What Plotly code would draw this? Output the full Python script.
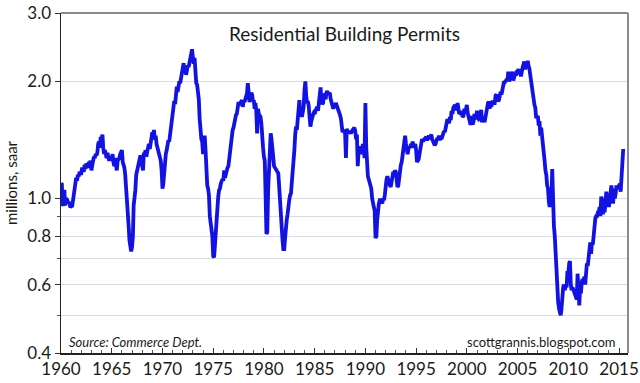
import pandas as pd
import plotly.graph_objects as go

# Monthly residential building permits, thousands (SAAR)
permits_1960s = [
    1092, 1088, 955, 1016, 1052, 958, 999, 994, 984, 972, 979, 947,
    955, 950, 980, 1030, 1060, 1100, 1130, 1110, 1150, 1140, 1170, 1160,
    1160, 1200, 1190, 1170, 1220, 1190, 1230, 1210, 1200, 1240, 1230, 1250,
    1180, 1220, 1250, 1280, 1270, 1300, 1290, 1310, 1380, 1400, 1350, 1440,
    1420, 1460, 1350, 1300, 1330, 1280, 1270, 1310, 1260, 1250, 1270, 1280,
    1250, 1300, 1240, 1210, 1270, 1200, 1180, 1250, 1260, 1270, 1300, 1320,
    1330, 1240, 1220, 1200, 1150, 1080, 1000, 920, 850, 780, 740, 730,
    750, 800, 960, 990, 1050, 1150, 1180, 1200, 1230, 1260, 1290, 1250,
    1210, 1180, 1310, 1300, 1330, 1280, 1320, 1350, 1380, 1340, 1410, 1400,
    1480, 1460, 1500, 1420, 1450, 1380, 1350, 1340, 1300, 1270, 1250, 1180,
]
permits_1970s = [
    1060, 1090, 1180, 1230, 1300, 1330, 1370, 1410, 1400, 1450, 1520, 1560,
    1620, 1720, 1780, 1750, 1850, 1940, 1880, 1920, 2000, 1980, 2050, 2060,
    2200, 2230, 2100, 2170, 2080, 2150, 2200, 2180, 2250, 2300, 2400, 2420,
    2300, 2220, 2300, 2100, 1980, 1960, 1900, 1800, 1600, 1450, 1420, 1400,
    1300, 1420, 1450, 1330, 1150, 1080, 1060, 1020, 900, 860, 830, 800,
    710, 705, 750, 820, 890, 960, 1010, 1050, 1060, 1090, 1100, 1120,
    1110, 1180, 1130, 1160, 1180, 1200, 1210, 1270, 1350, 1380, 1470, 1500,
    1520, 1580, 1620, 1640, 1650, 1710, 1770, 1740, 1760, 1780, 1790, 1720,
    1780, 1770, 1800, 1820, 1860, 1980, 1850, 1770, 1800, 1870, 1850, 1780,
    1790, 1700, 1760, 1680, 1470, 1700, 1650, 1640, 1620, 1560, 1400, 1350,
]
permits_1980s = [
    1280, 1250, 1020, 810, 820, 1050, 1200, 1320, 1470, 1420, 1310, 1280,
    1210, 1200, 1190, 1170, 1160, 1160, 1080, 970, 890, 820, 780, 740,
    740, 790, 860, 880, 910, 980, 990, 1020, 1030, 1100, 1160, 1260,
    1330, 1460, 1530, 1500, 1620, 1700, 1790, 1650, 1660, 1620, 1690, 1720,
    1900, 2000, 1840, 1760, 1780, 1730, 1620, 1530, 1580, 1640, 1640, 1660,
    1650, 1680, 1700, 1720, 1680, 1740, 1840, 1930, 1780, 1750, 1760, 1860,
    1840, 1800, 1870, 1890, 1850, 1860, 1870, 1800, 1760, 1730, 1700, 1730,
    1720, 1760, 1740, 1720, 1690, 1670, 1640, 1610, 1540, 1480, 1500, 1480,
    1470, 1270, 1510, 1480, 1470, 1490, 1480, 1470, 1490, 1500, 1510, 1520,
    1490, 1420, 1460, 1210, 1320, 1360, 1360, 1340, 1300, 1380, 1360, 1270,
]
permits_1990s = [
    1760, 1350, 1210, 1140, 1120, 1090, 1080, 1060, 1000, 960, 950, 930,
    790, 800, 880, 950, 970, 990, 990, 980, 970, 1000, 990, 1020,
    1090, 1120, 1140, 1120, 1080, 1080, 1070, 1100, 1130, 1170, 1160, 1180,
    1170, 1090, 1070, 1080, 1140, 1190, 1220, 1240, 1290, 1330, 1400, 1450,
    1380, 1320, 1300, 1340, 1360, 1350, 1380, 1370, 1400, 1350, 1360, 1380,
    1330, 1240, 1250, 1260, 1310, 1350, 1390, 1420, 1410, 1410, 1420, 1440,
    1440, 1410, 1440, 1450, 1420, 1440, 1460, 1420, 1400, 1400, 1370, 1380,
    1400, 1430, 1420, 1450, 1410, 1440, 1420, 1450, 1470, 1490, 1480, 1520,
    1540, 1600, 1580, 1560, 1620, 1590, 1680, 1650, 1710, 1720, 1740, 1700,
    1700, 1760, 1700, 1650, 1680, 1640, 1660, 1620, 1630, 1700, 1650, 1690,
]
permits_2000s = [
    1740, 1660, 1620, 1570, 1560, 1560, 1630, 1550, 1580, 1650, 1600, 1620,
    1680, 1610, 1600, 1610, 1620, 1690, 1570, 1620, 1610, 1570, 1620, 1680,
    1710, 1760, 1770, 1700, 1780, 1720, 1770, 1770, 1760, 1760, 1840, 1850,
    1810, 1780, 1790, 1840, 1880, 1850, 1900, 1950, 2000, 1990, 2010, 2020,
    2000, 2120, 2000, 2050, 2080, 2070, 2120, 2010, 2080, 2090, 2070, 2130,
    2120, 2150, 2100, 2130, 2060, 2150, 2170, 2210, 2250, 2150, 2200, 2180,
    2260, 2190, 2160, 2080, 2000, 1950, 1840, 1790, 1740, 1710, 1610, 1620,
    1630, 1540, 1580, 1450, 1520, 1420, 1390, 1330, 1250, 1180, 1150, 1080,
    1060, 980, 950, 980, 970, 1190, 910, 850, 800, 730, 640, 560,
    540, 520, 510, 500, 520, 570, 590, 600, 580, 600, 590, 650,
]
permits_2010s = [
    640, 680, 690, 600, 580, 590, 580, 570, 570, 550, 550, 640,
    570, 530, 590, 570, 610, 620, 600, 630, 600, 650, 680, 670,
    710, 720, 770, 720, 770, 760, 810, 810, 890, 900, 900, 920,
    920, 950, 900, 1010, 990, 910, 950, 920, 1000, 1040, 1000, 990,
    950, 1010, 1000, 1080, 1020, 970, 1060, 1000, 1030, 1080, 1060, 1070,
    1080, 1090, 1040, 1140, 1250, 1340,
]
start_month = "1960-01-01"

y_tick_vals = [0.4, 0.6, 0.8, 1.0, 2.0, 3.0]
y_tick_text = ["0.4", "0.6", "0.8", "1.0", "2.0", "3.0"]
y_minor_vals = [0.5, 0.7, 0.9]
x_tick_years = list(range(1960, 2016, 5))

values = permits_1960s + permits_1970s + permits_1980s + permits_1990s + permits_2000s + permits_2010s
dates = pd.date_range(start_month, periods=len(values), freq="MS")
millions = [v / 1000 for v in values]

FONT = "Lato"
TXT = "#1a1a1a"
GRID = "#d6dde4"

fig = go.Figure()
fig.add_trace(go.Scatter(
    x=dates, y=millions, mode="lines",
    line=dict(color="#1212e2", width=3.8),
    hoverinfo="skip", showlegend=False,
))

fig.update_layout(
    width=640, height=383,
    margin=dict(l=61, r=12, t=13, b=30, autoexpand=False),
    paper_bgcolor="white", plot_bgcolor="white",
    font=dict(family=FONT, color=TXT),
    showlegend=False,
)

fig.update_xaxes(
    type="date", automargin=False,
    range=["1960-01-01", "2015-11-20"],
    tickvals=[f"{y}-01-01" for y in x_tick_years],
    ticktext=[str(y) for y in x_tick_years],
    ticks="inside", ticklen=5, tickwidth=1, tickcolor="#333",
    tickfont=dict(size=17, family=FONT, color=TXT),
    showgrid=False, zeroline=False,
    showline=True, linecolor="#222", linewidth=1.5,
    minor=dict(ticks="inside", ticklen=3, tickcolor="#555", dtick="M12",
               tick0="1960-01-01", showgrid=False),
)

fig.update_yaxes(
    type="log", automargin=False,
    range=[-0.39794, 0.47712],
    tickvals=y_tick_vals, ticktext=y_tick_text,
    ticks="outside", ticklen=5, tickcolor="#333",
    tickfont=dict(size=17, family=FONT, color=TXT),
    showgrid=True, gridcolor=GRID, gridwidth=1,
    showline=True, linecolor="#222", linewidth=1.5,
    zeroline=False,
    title=dict(text="millions, saar", font=dict(size=15, family=FONT, color=TXT), standoff=6),
    minor=dict(tickvals=y_minor_vals, ticks="outside", ticklen=3, tickcolor="#555",
               showgrid=True, gridcolor=GRID, gridwidth=1),
)

# gray frame on top and right
fig.add_shape(type="line", xref="paper", yref="paper", x0=0, x1=1, y0=1, y1=1,
              line=dict(color="#8a8a8a", width=2))
fig.add_shape(type="line", xref="paper", yref="paper", x0=1, x1=1, y0=0, y1=1,
              line=dict(color="#8a8a8a", width=2))

fig.add_annotation(text="Residential Building Permits", xref="paper", yref="paper",
                   x=0.5, y=0.94, xanchor="center", yanchor="middle", showarrow=False,
                   font=dict(size=19, family=FONT, color=TXT))
fig.add_annotation(text="<i>Source: Commerce Dept.</i>", xref="paper", yref="paper",
                   x=0.01, y=0.032, xanchor="left", yanchor="middle", showarrow=False,
                   font=dict(size=13, family=FONT, color=TXT))
fig.add_annotation(text="scottgrannis.blogspot.com", xref="paper", yref="paper",
                   x=0.982, y=0.032, xanchor="right", yanchor="middle", showarrow=False,
                   font=dict(size=13, family=FONT, color=TXT))

fig.write_html(
    "out.html",
    config={"displayModeBar": False, "staticPlot": True},
    post_script="document.body.style.margin='0';document.body.style.padding='0';",
)
